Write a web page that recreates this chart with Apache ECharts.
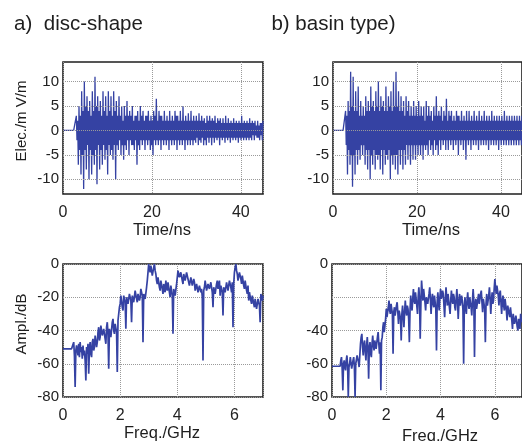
<!DOCTYPE html>
<html><head><meta charset="utf-8">
<script src="https://cdn.jsdelivr.net/npm/echarts@6/dist/echarts.min.js"></script>
<style>html,body{margin:0;padding:0;background:#fff}#c{width:522px;height:441px}</style>
</head><body><div id="c"></div><script>
// sampling grids
const timeStep = 0.15;   // ns
const freqStep = 0.025;  // GHz

// a) disc-shape, electric field (mV/m), one row = 3 ns
const elecDisc = [
  0,0,0,0,0,0,0,0,0,0,0,0,0,0,0,0,0,0,0,0,
  3,-2,2,-7,5,-4,3,-9,8,-5,4,-12,10,-4,5,-8,7,-3,4,-10,
  6,-4,3,-9,8,-5,4,-7,11,-4,5,-11,7,-3,4,-8,6,-4,3,-7,
  8,-3,4,-6,7,-4,3,-9,8,-3,4,-5,7,-4,3,-6,8,-3,4,-10,
  6,-3,3,-4,7,-2,3,-5,5,-3,2,-6,5,-3,3,-4,6,-2,3,-5,
  4,-2,3,-3,5,-3,2,-4,3,-2,3,-7,4,-3,2,-4,5,-2,3,-3,
  4,-2,2,-4,3,-2,3,-3,4,-2,2,-4,3,-3,2,-5,4,-2,3,-3,
  6.5,-2,2,-3,4,-2,3,-4,3,-2,2,-3,4,-2,2,-3,3,-2,2,-4,
  4,-2,2,-3,3,-2,2,-3,4,-2,3,-4,3,-2,2,-3,4,-2,2,-3,
  5,-2,2,-4,3,-2,2,-3,3.5,-2,2,-3,4,-2,2,-3,3,-2,2,-2.5,
  3,-1.5,2,-3,3.5,-2,2,-2.5,3,-1.5,2,-3,2.5,-2,1.5,-3,3,-1.5,2,-2.5,
  3,-1.5,2,-3,2.5,-1.5,2,-2.5,3,-1.5,1.5,-2,2.5,-1.5,2,-3,2.5,-1.5,1.5,-2,
  2.5,-1.5,1.5,-2.5,3,-1.5,1.5,-2,2.5,-1.5,1.5,-2.5,2,-1.5,1.5,-2,2.5,-1.5,1.5,-2,
  2,-1.5,1.5,-2.5,2,-1.5,1.5,-2,3,-1.5,1.5,-2,2,-1.5,1.5,-2,2,-1.5,1.5,-2,
  2.5,-1.5,1.5,-2,2,-1,1.5,-2,2,-1,1,-1.5,2,-1.5,1,-2,1.5,-1,1.5,-2,
  2
];
// b) basin type, electric field (mV/m)
const elecBasin = [
  0,0,0,0,0,0,0,0,0,0,0,0,0,0,0,0,0,0,0,0,
  4,-3,3,-9,6,-4,4,-7,12,-5,5,-11.5,11,-5,4,-9,8,-4,4,-7,
  9,-4,3,-6,6,-3,3,-5,5,-3,3,-7,7,-4,4,-8,6,-4,4,-10,
  9,-5,5,-7,6,-4,4,-8,8,-5,5,-6,10,-5,4,-8,7,-4,5,-9,
  6,-4,4,-7,9,-5,4,-6,7,-4,5,-10,8,-5,4,-7,10,-5,5,-8,
  12,-5,5,-9,8,-4,4,-7,7,-4,4,-8,6,-4,3,-7,7,-3,4,-6,
  6,-3,3,-7,5,-3,3,-6,6,-3,3,-6,5,-3,3,-5,6,-3,3,-5,
  5,-3,3,-6,5,-3,2,-4,6,-3,3,-5,5,-2,3,-4,4,-3,2,-5,
  5,-2,3,-4,7,-3,3,-5,4,-2,3,-4,5,-2,2,-3,4,-2,3,-4,
  6.5,-2,2,-4,4,-2,3,-3,4,-2,2,-4,3,-2,2,-3,4,-2,3,-5,
  3,-2,2,-3,4,-2,2,-4,3,-2,2,-6,4,-2,2,-3,4,-2,2,-4,
  3,-2,2,-3,4,-2,2,-3,3,-2,2,-4,4,-2,2,-3,3,-2,2,-3,
  4,-2,2,-3,3,-2,2,-4,3,-2,2,-3,4,-2,2,-3,3,-2,2,-3,
  3,-2,2,-4,3,-2,2,-3,3,-2,2,-3,4,-2,2,-3,3,-2,2,-3,
  3,-2,2,-3,3,-2,2,-3,3,-2,2,-3,3,-2,2,-3,3,-2,2,-3,
  3
];
// a) disc-shape spectrum (dB), one row = 0.5 GHz
const amplDisc = [
  -51,-51,-51,-51,-51,-51,-51,-51,-51,-51,-51,-51,-51,-51,-51,-47,-55,-74,-52,-49,
  -50,-55,-48,-56,-47,-53,-50,-57,-49,-55,-52,-58,-70,-50,-54,-48,-66,-51,-47,-54,
  -56,-47,-45,-52,-50,-43,-44,-50,-47,-41,-38,-46,-44,-37,-36,-43,-44,-39,-40,-45,
  -48,-38,-35,-42,-63,-39,-38,-44,-43,-35,-33,-40,-42,-36,-36,-41,-65,-34,-30,-26,
  -24,-19,-20,-26,-28,-19,-18,-23,-39,-20,-20,-24,-24,-18,-17,-22,-35,-19,-19,-23,
  -22,-16,-16,-21,-23,-18,-18,-22,-20,-15,-15,-19,-47,-18,-17,-21,-21,-14,-10,-5,
  0,-3,-5,-1,-2,-7,-8,-2,0,-4,-6,-10,-12,-8,-9,-14,-16,-10,-11,-15,
  -18,-12,-13,-17,-10,-14,-16,-11,-12,-17,-20,-13,-14,-19,-42,-15,-15,-19,-18,-12,
  -8,-4,-3,-8,-9,-5,-5,-10,-12,-6,-6,-10,-10,-5,-4,-9,-9,-13,-13,-8,
  -8,-13,-14,-9,-11,-16,-16,-12,-12,-17,-18,-13,-13,-17,-15,-20,-58,-16,-14,-10,
  -11,-16,-17,-12,-12,-15,-15,-11,-11,-17,-26,-14,-13,-18,-17,-12,-10,-15,-14,-10,
  -19,-13,-12,-17,-31,-14,-13,-17,-16,-11,-11,-16,-15,-10,-9,-14,-17,-11,-38,-12,
  -5,-2,0,-4,-6,-10,-10,-5,-4,-9,-12,-7,-8,-13,-15,-10,-10,-16,-18,-13,
  -22,-17,-16,-22,-24,-19,-19,-24,-26,-21,-22,-27,-27,-21,-20,-25,-35,-18,-17,-22,
  -19
];
// b) basin type spectrum (dB)
const amplBasin = [
  -61.5,-61.5,-61.5,-61.5,-61.5,-61.5,-61.5,-61.5,-61.5,-61.5,-61.5,-61.5,-61.5,-58,-56,-63,-76,-60,-58,-62,
  -64,-58,-55,-61,-80,-62,-60,-56,-57,-63,-64,-58,-56,-62,-80,-60,-60,-55,-54,-59,
  -62,-55,-48,-44,-42,-50,-55,-48,-46,-53,-58,-49,-44,-51,-69,-50,-47,-54,-56,-48,
  -43,-49,-52,-46,-45,-51,-50,-44,-41,-48,-54,-47,-76,-46,-44,-38,-35,-41,-40,-33,
  -27,-32,-33,-26,-22,-28,-30,-24,-24,-30,-54,-29,-26,-31,-32,-25,-23,-29,-36,-28,
  -27,-33,-46,-30,-25,-31,-38,-29,-22,-28,-31,-25,-27,-33,-47,-28,-19,-25,-28,-21,
  -15,-22,-24,-17,-18,-25,-30,-20,-14,-21,-45,-24,-10,-16,-22,-15,-16,-23,-28,-20,
  -19,-24,-25,-18,-14,-21,-30,-22,-18,-24,-26,-19,-20,-27,-52,-23,-17,-23,-28,-20,
  -15,-21,-22,-16,-18,-25,-32,-22,-14,-20,-25,-18,-19,-26,-30,-22,-16,-22,-24,-18,
  -20,-26,-28,-21,-15,-22,-33,-24,-18,-25,-26,-19,-22,-28,-60,-25,-20,-27,-30,-22,
  -17,-24,-27,-20,-19,-26,-31,-22,-15,-22,-56,-25,-21,-27,-28,-21,-18,-24,-24,-18,
  -16,-23,-29,-21,-20,-27,-47,-24,-18,-25,-26,-19,-14,-21,-30,-22,-17,-24,-22,-15,
  -9,-14,-18,-13,-12,-19,-25,-18,-16,-23,-30,-22,-19,-25,-28,-21,-21,-28,-34,-25,
  -24,-30,-32,-26,-27,-34,-39,-30,-30,-36,-36,-31,-32,-38,-40,-33,-34,-39,-30,-35,
  -35
];

// tick labels
const timeTicks = [0, 20, 40];
const elecTicks = [-10, -5, 0, 5, 10];
const freqTicks = [0, 2, 4, 6];
const amplTicksDisc = [0, -20, -40, -60, -80];
const amplTicksBasin = [0, -40, -60, -80];

const titles = ['a)  disc-shape', 'b) basin type)'];
const FONT = '"Liberation Sans", Arial, sans-serif';
const LINE = '#3542a3';
const GRIDC = '#9a9a9a';

function pairs(vals, step) { return vals.map((v, i) => [+(i * step).toFixed(4), v]); }

const grids = [
  {left: 63, top: 62, width: 200, height: 132},
  {left: 333, top: 62, width: 196, height: 132},
  {left: 63, top: 264, width: 200, height: 133},
  {left: 332, top: 264, width: 199, height: 133}
];
grids.forEach(g => { g.show = true; g.borderColor = '#1e1e1e'; g.borderWidth = 1.6; g.backgroundColor = 'transparent'; });

function xAxis(gi, min, max, interval, ticks) {
  return {type: 'value', gridIndex: gi, min, max, interval,
    axisLine: {show: false}, axisTick: {show: false},
    axisLabel: {customValues: ticks, margin: 11, color: '#222', fontFamily: FONT, fontSize: 16},
    splitLine: {show: true, lineStyle: {color: GRIDC, type: 'dotted', width: 1}}};
}
function yAxis(gi, min, max, ticks, split, interval) {
  const a = {type: 'value', gridIndex: gi, min, max,
    axisLine: {show: false}, axisTick: {show: false},
    axisLabel: {customValues: ticks, margin: 4, color: '#222', fontFamily: FONT, fontSize: 15},
    splitLine: {show: split, lineStyle: {color: GRIDC, type: 'dotted', width: 1}}};
  if (interval) a.interval = interval;
  return a;
}

function gridLineSeries(ai, vals) {
  return {type: 'line', xAxisIndex: ai, yAxisIndex: ai, data: [], z: 1, silent: true,
    markLine: {symbol: 'none', silent: true, animation: false, label: {show: false},
      lineStyle: {color: GRIDC, type: 'dotted', width: 1},
      data: vals.map(v => ({yAxis: v}))}};
}
function sig(ai, data, w) {
  return {type: 'line', xAxisIndex: ai, yAxisIndex: ai, data, z: 3, symbol: 'none',
    showSymbol: false, sampling: null, clip: true, animation: false,
    lineStyle: {color: LINE, width: w, join: 'bevel'}};
}

function txt(text, x, y, size, rot) {
  return {type: 'text', x, y, rotation: rot || 0, silent: true,
    style: {text, fill: '#1e1e1e', fontSize: size, fontFamily: FONT, align: 'center', verticalAlign: 'middle'}};
}

const option = {
  animation: false,
  backgroundColor: '#fff',
  grid: grids,
  xAxis: [
    xAxis(0, 0, 45, 20, timeTicks),
    xAxis(1, 0, 45, 20, timeTicks),
    xAxis(2, 0, 7, 2, freqTicks),
    xAxis(3, 0, 7, 2, freqTicks)
  ],
  yAxis: [
    yAxis(0, -13, 14, elecTicks, false),
    yAxis(1, -13, 14, elecTicks, false),
    yAxis(2, -80, 0, amplTicksDisc, true, 20),
    yAxis(3, -80, 0, amplTicksBasin, true, 20)
  ],
  series: [
    gridLineSeries(0, elecTicks),
    gridLineSeries(1, elecTicks),
    sig(0, pairs(elecDisc, timeStep), 1.3),
    sig(1, pairs(elecBasin, timeStep), 1.3),
    sig(2, pairs(amplDisc, freqStep), 1.7),
    sig(3, pairs(amplBasin, freqStep), 1.7)
  ],
  graphic: [
    txt(titles[0], 78.5, 24, 20.5),
    txt(titles[1], 333.5, 24, 20.5),
    txt('Elec./m V/m', 22, 121, 15, Math.PI / 2),
    txt('Ampl./dB', 22, 324, 15, Math.PI / 2),
    txt('Time/ns', 162, 230, 16.5),
    txt('Time/ns', 431, 230, 16.5),
    txt('Freq./GHz', 162, 433, 16.5),
    txt('Freq./GHz', 440, 436, 16.5)
  ]
};

const chart = echarts.init(document.getElementById('c'), null, {renderer: 'canvas'});
chart.setOption(option);
</script></body></html>
